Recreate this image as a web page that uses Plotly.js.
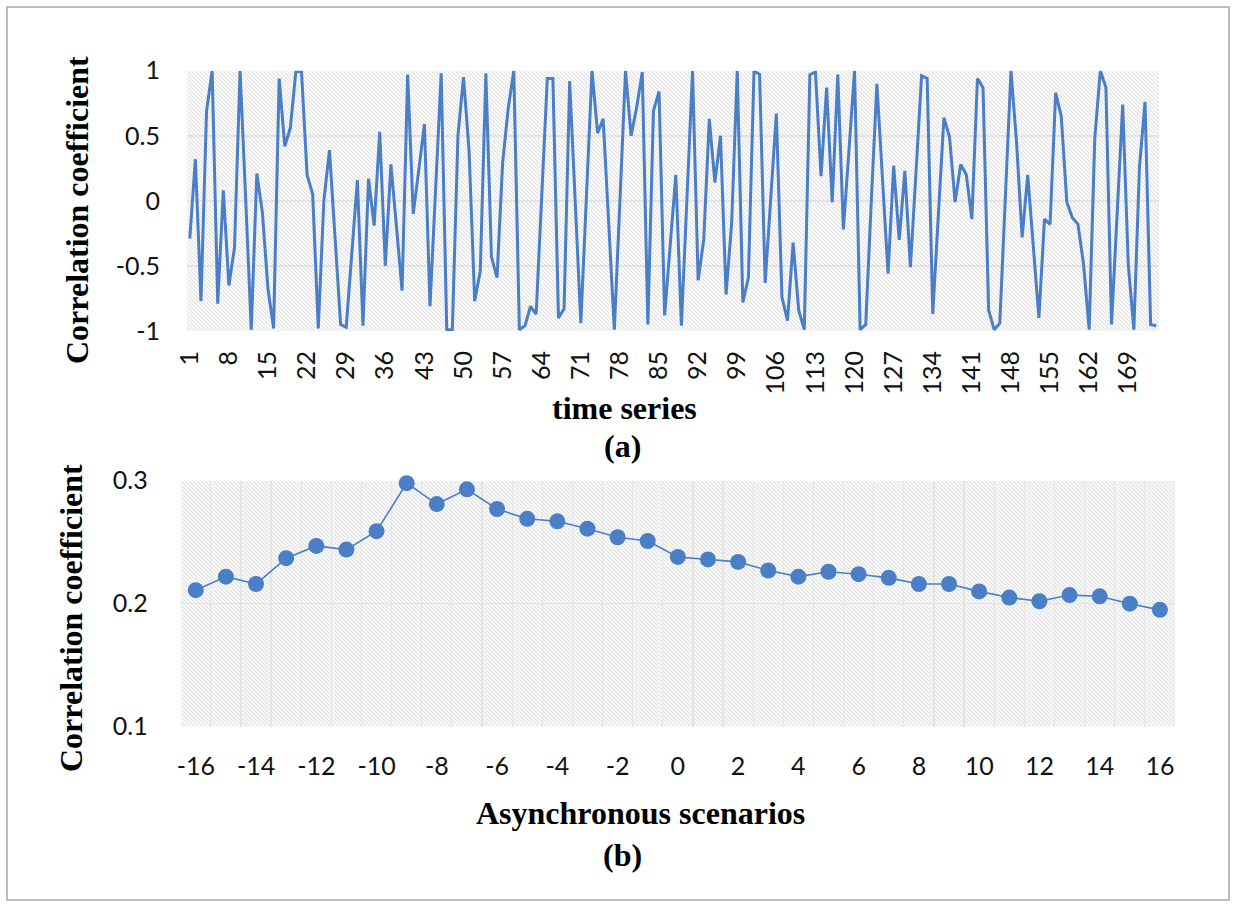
<!DOCTYPE html>
<html>
<head>
<meta charset="utf-8">
<script src="https://cdn.plot.ly/plotly-3.0.1.min.js"></script>
<style>html,body{margin:0;padding:0;background:#fff;}#chart{width:1236px;height:905px;}</style>
</head>
<body>
<div id="chart"></div>
<script>
// ---- Data: panel (a) correlation coefficient per time step ----
const corrSeries = [
 -0.29, 0.32, -0.77, 0.69, 1.00, -0.79, 0.08, -0.65, -0.36, 1.00,
  0.02, -0.99, 0.21, -0.09, -0.68, -0.98, 0.94, 0.42, 0.56, 1.00,
  0.99, 0.20, 0.05, -0.98, 0.00, 0.39, -0.28, -0.95, -0.97, -0.40,
  0.16, -0.96, 0.17, -0.19, 0.53, -0.50, 0.28, -0.20, -0.69, 0.97,
 -0.10, 0.24, 0.59, -0.81, 0.08, 0.98, -0.99, -0.99, 0.50, 0.95,
  0.38, -0.77, -0.54, 0.98, -0.43, -0.59, 0.29, 0.71, 1.00, -0.99,
 -0.96, -0.81, -0.87, 0.00, 0.94, 0.94, -0.90, -0.83, 0.92, -0.01,
 -0.94, 0.03, 1.00, 0.52, 0.63, -0.18, -0.99, 0.00, 1.00, 0.50,
  0.72, 0.99, -0.95, 0.69, 0.84, -0.88, -0.34, 0.20, -0.96, 0.02,
  1.00, -0.61, -0.30, 0.63, 0.14, 0.50, -0.72, -0.17, 1.00, -0.78,
 -0.59, 1.00, 0.97, -0.63, 0.02, 0.67, -0.74, -0.92, -0.32, -0.84,
 -0.99, 0.97, 0.99, 0.19, 0.87, -0.01, 0.97, -0.22, 0.39, 1.00,
 -0.99, -0.95, 0.00, 0.90, 0.17, -0.56, 0.27, -0.30, 0.23, -0.51,
  0.22, 0.96, 0.94, -0.87, -0.11, 0.64, 0.49, -0.01, 0.28, 0.20,
 -0.14, 0.94, 0.87, -0.84, -0.99, -0.94, 0.03, 1.00, 0.45, -0.28,
  0.20, -0.35, -0.90, -0.14, -0.18, 0.83, 0.65, -0.01, -0.13, -0.18,
 -0.49, -0.99, 0.48, 1.00, 0.87, -0.95, -0.11, 0.74, -0.49, -0.99,
  0.26, 0.76, -0.95, -0.96
];
const timeTickLabels = [1, 8, 15, 22, 29, 36, 43, 50, 57, 64, 71, 78, 85, 92, 99, 106, 113, 120, 127, 134, 141, 148, 155, 162, 169];
const corrTickLabels = [1, 0.5, 0, -0.5, -1];

// ---- Data: panel (b) correlation per asynchronous scenario ----
const scenarios = [-16, -15, -14, -13, -12, -11, -10, -9, -8, -7, -6, -5, -4, -3, -2, -1, 0,
                   1, 2, 3, 4, 5, 6, 7, 8, 9, 10, 11, 12, 13, 14, 15, 16];
const scenarioCorr = [0.211, 0.222, 0.216, 0.237, 0.247, 0.244, 0.259, 0.298, 0.281, 0.293, 0.277, 0.269, 0.267,
                      0.261, 0.254, 0.251, 0.238, 0.236, 0.234, 0.227, 0.222, 0.226, 0.224, 0.221, 0.216,
                      0.216, 0.210, 0.205, 0.202, 0.207, 0.206, 0.200, 0.195];
const scenarioTickLabels = [-16, -14, -12, -10, -8, -6, -4, -2, 0, 2, 4, 6, 8, 10, 12, 14, 16];
const scenarioYTicks = [0.1, 0.2, 0.3];

const timeIndex = corrSeries.map((_, i) => i + 1);

// ---- Layout helpers (pixel -> paper) ----
const W = 1236, H = 905;
const px = v => v / W;
const py = v => 1 - v / H;

const A = {l: 187, r: 1159, t: 70.7, b: 331};
const B = {l: 180.7, r: 1175, t: 480.7, b: 726.7};

function hatch(w, h) {
  const svg = "<svg xmlns='http://www.w3.org/2000/svg' width='" + w + "' height='" + h + "'>" +
    "<defs><pattern id='p' patternUnits='userSpaceOnUse' width='4' height='4'>" +
    "<rect width='4' height='4' fill='#fcfcfc'/>" +
    "<path d='M-1,-1 L5,5 M3,-1 L5,1 M-1,3 L1,5' stroke='#dcdcdc' stroke-width='0.9'/>" +
    "</pattern></defs><rect width='" + w + "' height='" + h + "' fill='url(#p)'/></svg>";
  return 'data:image/svg+xml;base64,' + btoa(svg);
}

const blue = '#4a7ec6';
const tickFont = {family: 'Lato, "Open Sans", sans-serif', size: 25, color: '#111'};
const titleFont = {family: '"Liberation Serif", "Times New Roman", serif', size: 32, color: '#000', weight: 'bold'};

const traces = [
  {
    x: timeIndex, y: corrSeries, xaxis: 'x', yaxis: 'y',
    type: 'scatter', mode: 'lines',
    line: {color: blue, width: 3},
    hoverinfo: 'x+y'
  },
  {
    x: scenarios, y: scenarioCorr, xaxis: 'x2', yaxis: 'y2',
    type: 'scatter', mode: 'lines+markers',
    line: {color: blue, width: 1.6},
    marker: {color: blue, size: 16},
    cliponaxis: false
  }
];

const layout = {
  width: W, height: H,
  margin: {l: 0, r: 0, t: 0, b: 0},
  paper_bgcolor: '#ffffff',
  plot_bgcolor: 'rgba(0,0,0,0)',
  showlegend: false,
  xaxis: {
    domain: [px(A.l), px(A.r)], anchor: 'y',
    range: [0.5, corrSeries.length + 0.5],
    tickmode: 'array', tickvals: timeTickLabels, ticktext: timeTickLabels.map(String),
    tickangle: -90, tickfont: tickFont, ticks: '', ticklabelstandoff: 14,
    showgrid: false, zeroline: false, showline: false
  },
  yaxis: {
    domain: [py(A.b), py(A.t)], anchor: 'x',
    range: [-1, 1],
    tickmode: 'array', tickvals: corrTickLabels, ticktext: corrTickLabels.map(String),
    tickfont: tickFont, ticks: '', ticklabelstandoff: 26,
    showgrid: true, gridcolor: '#e4e4e4', gridwidth: 1.5,
    zeroline: false, showline: false
  },
  xaxis2: {
    domain: [px(B.l), px(B.r)], anchor: 'y2',
    range: [-16.5, 16.5],
    tickmode: 'array', tickvals: scenarioTickLabels, ticktext: scenarioTickLabels.map(String),
    tickfont: tickFont, ticks: '', ticklabelstandoff: 22,
    showgrid: false, zeroline: false, showline: false,
    minor: {tick0: -16.5, dtick: 1, showgrid: true, gridcolor: '#e4e4e4', gridwidth: 1.2, ticks: ''}
  },
  yaxis2: {
    domain: [py(B.b), py(B.t)], anchor: 'x2',
    range: [0.1, 0.3],
    tickmode: 'array', tickvals: scenarioYTicks, ticktext: scenarioYTicks.map(String),
    tickfont: tickFont, ticks: '', ticklabelstandoff: 32,
    showgrid: true, gridcolor: '#e4e4e4', gridwidth: 1.5,
    zeroline: false, showline: false
  },
  images: [
    {source: hatch(Math.round(A.r - A.l), Math.round(A.b - A.t)), xref: 'paper', yref: 'paper',
     x: px(A.l), y: py(A.t), sizex: (A.r - A.l) / W, sizey: (A.b - A.t) / H,
     xanchor: 'left', yanchor: 'top', sizing: 'stretch', layer: 'below'},
    {source: hatch(Math.round(B.r - B.l), Math.round(B.b - B.t)), xref: 'paper', yref: 'paper',
     x: px(B.l), y: py(B.t), sizex: (B.r - B.l) / W, sizey: (B.b - B.t) / H,
     xanchor: 'left', yanchor: 'top', sizing: 'stretch', layer: 'below'}
  ],
  shapes: [
    {type: 'rect', xref: 'paper', yref: 'paper', x0: px(7), x1: px(1229), y0: py(900), y1: py(7),
     line: {color: '#a8a8a8', width: 1.5}, fillcolor: 'rgba(0,0,0,0)', layer: 'below'}
  ],
  annotations: [
    {text: 'Correlation coefficient', xref: 'paper', yref: 'paper', x: px(77), y: py(210),
     textangle: -90, showarrow: false, font: titleFont, xanchor: 'center', yanchor: 'middle'},
    {text: 'time series', xref: 'paper', yref: 'paper', x: px(624), y: py(408),
     showarrow: false, font: titleFont, xanchor: 'center', yanchor: 'middle'},
    {text: '(a)', xref: 'paper', yref: 'paper', x: px(622), y: py(446),
     showarrow: false, font: titleFont, xanchor: 'center', yanchor: 'middle'},
    {text: 'Correlation coefficient', xref: 'paper', yref: 'paper', x: px(71), y: py(618),
     textangle: -90, showarrow: false, font: titleFont, xanchor: 'center', yanchor: 'middle'},
    {text: 'Asynchronous scenarios', xref: 'paper', yref: 'paper', x: px(640), y: py(813),
     showarrow: false, font: titleFont, xanchor: 'center', yanchor: 'middle'},
    {text: '(b)', xref: 'paper', yref: 'paper', x: px(622), y: py(855),
     showarrow: false, font: titleFont, xanchor: 'center', yanchor: 'middle'}
  ]
};

Plotly.newPlot('chart', traces, layout, {displayModeBar: false, staticPlot: true});
</script>
</body>
</html>
